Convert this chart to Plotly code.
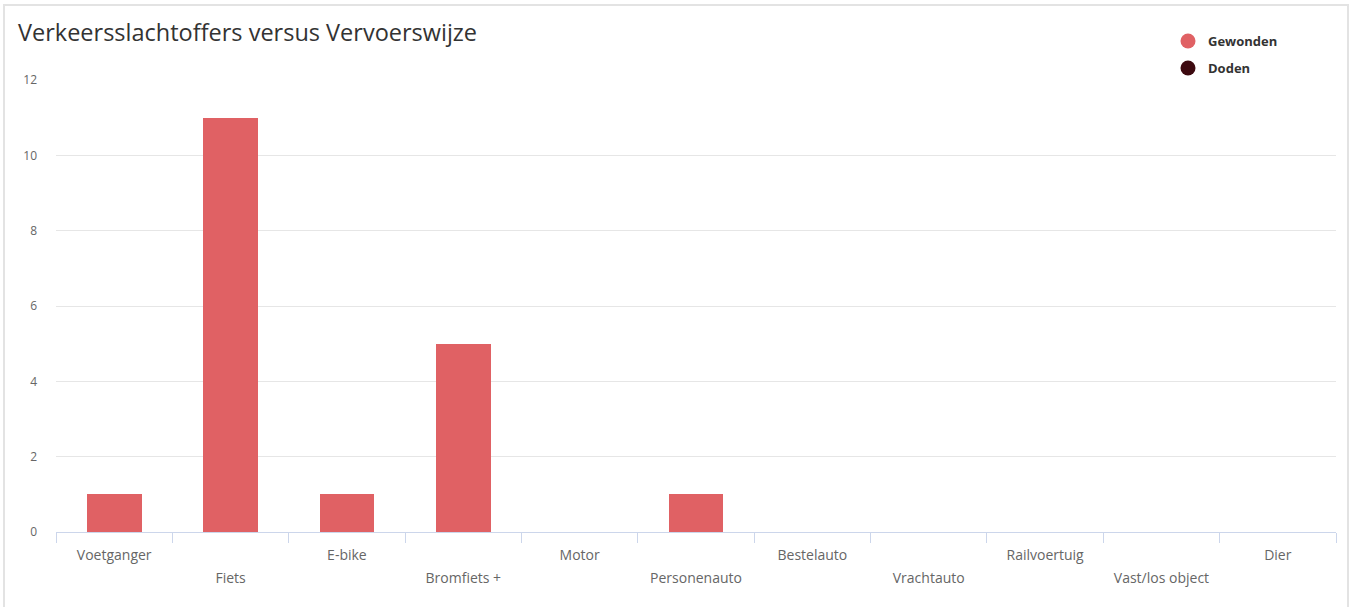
import plotly.graph_objects as go

categories = ["Voetganger", "Fiets", "E-bike", "Bromfiets +", "Motor", "Personenauto",
              "Bestelauto", "Vrachtauto", "Railvoertuig", "Vast/los object", "Dier"]
gewonden = [1, 11, 1, 5, 0, 1, 0, 0, 0, 0, 0]
doden = [0, 0, 0, 0, 0, 0, 0, 0, 0, 0, 0]
y_ticks = [0, 2, 4, 6, 8, 10, 12]

col_gew = "#e06164"
col_dod = "#3d0a10"
font = "Open Sans"
W, H = 1350, 607

row1 = [c if i % 2 == 0 else "" for i, c in enumerate(categories)]
row2 = [c if i % 2 == 1 else "" for i, c in enumerate(categories)]

fig = go.Figure()
fig.add_trace(go.Bar(x=categories, y=gewonden, name="Gewonden", marker_color=col_gew,
                     marker_line_width=0, width=0.47, showlegend=False))
fig.add_trace(go.Bar(x=categories, y=doden, name="Doden", marker_color=col_dod, xaxis="x2",
                     marker_line_width=0, width=0.47, showlegend=False))
fig.add_trace(go.Scatter(x=[None], y=[None], mode="markers", name="Gewonden",
                         marker=dict(symbol="circle", size=15, color=col_gew), legend="legend"))
fig.add_trace(go.Scatter(x=[None], y=[None], mode="markers", name="Doden",
                         marker=dict(symbol="circle", size=15, color=col_dod), legend="legend2"))

legend_common = dict(xref="container", yref="container", xanchor="left", yanchor="middle",
                     bgcolor="rgba(0,0,0,0)",
                     font=dict(size=13, color="#333333", family=font, weight="bold"))

fig.update_layout(
    width=W, height=H,
    barmode="stack",
    plot_bgcolor="white", paper_bgcolor="white",
    margin=dict(l=56, r=14, t=80, b=75, autoexpand=False),
    font=dict(family=font, color="#666666", size=12),
    title=dict(text="Verkeersslachtoffers versus Vervoerswijze", x=18 / W, xref="container",
               xanchor="left", y=1 - 33 / H, yref="container", yanchor="middle",
               font=dict(size=23.5, color="#333333", family=font)),
    legend=dict(x=1168 / W, y=1 - 41 / H, **legend_common),
    legend2=dict(x=1168 / W, y=1 - 68 / H, **legend_common),
    xaxis=dict(tickmode="array", tickvals=categories, ticktext=row1,
               tickson="boundaries", ticks="outside", ticklen=10, tickcolor="#ccd6eb",
               showline=True, linecolor="#ccd6eb", linewidth=1, showgrid=False,
               tickfont=dict(size=14, color="#666666", family=font), tickangle=0,
               ticklabelstandoff=10, fixedrange=True),
    xaxis2=dict(overlaying="x", matches="x", anchor="y", side="bottom",
                tickmode="array", tickvals=categories, ticktext=row2,
                ticks="", showline=False, showgrid=False, zeroline=False,
                tickfont=dict(size=14, color="#666666", family=font), tickangle=0,
                ticklabelstandoff=36, fixedrange=True),
    yaxis=dict(range=[0, 12], tickvals=y_ticks, showgrid=True, gridcolor="#e6e6e6",
               zeroline=False, showline=False, ticks="",
               tickfont=dict(size=12, color="#666666", family=font),
               ticklabelstandoff=18, fixedrange=True),
    shapes=[dict(type="rect", xref="paper", yref="paper",
                 x0=-52 / 1280, x1=1 + 12 / 1280, y0=-80 / 452, y1=1 + 75 / 452,
                 line=dict(color="#e3e3e3", width=2), fillcolor="rgba(0,0,0,0)", layer="below")],
)

fig.write_html("out.html")
